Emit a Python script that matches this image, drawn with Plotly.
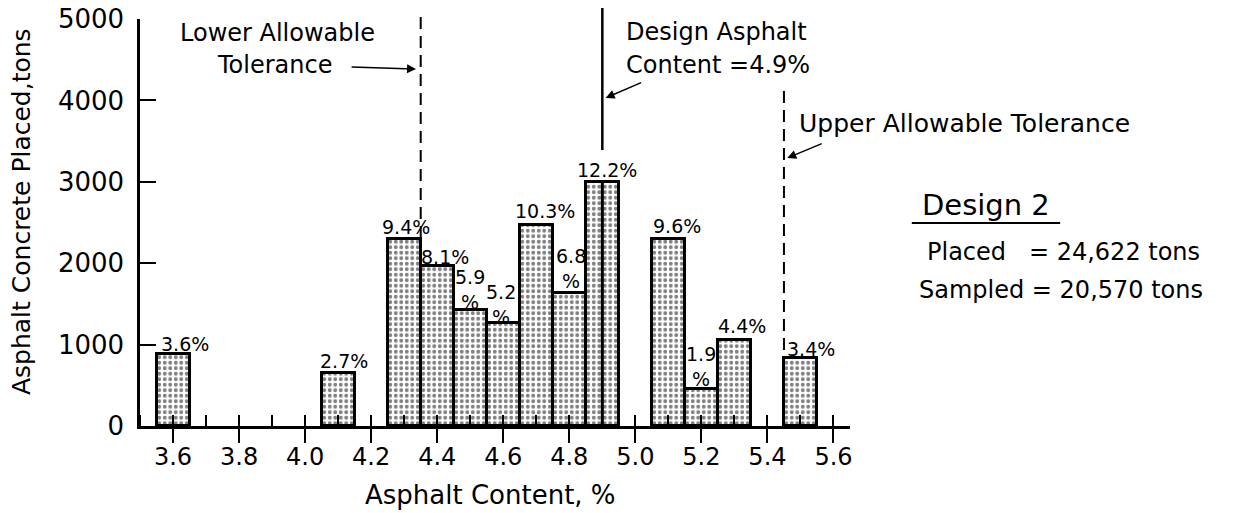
import plotly.graph_objects as go

# Contenido de asfalto (centro de cada clase, %), toneladas colocadas y etiquetas
asphalt_content = [3.6, 4.1, 4.3, 4.4, 4.5, 4.6, 4.7, 4.8, 4.9, 5.1, 5.2, 5.3, 5.5]
tons_placed = [880, 650, 2300, 1970, 1430, 1260, 2470, 1640, 3000, 2300, 460, 1060, 830]
pct_labels = ["3.6%", "2.7%", "9.4%", "8.1%", "5.9<br>%", "5.2<br>%", "10.3%",
              "6.8<br>%", "12.2%", "9.6%", "1.9<br>%", "4.4%", "3.4%"]

x_ticks = [3.6, 3.8, 4.0, 4.2, 4.4, 4.6, 4.8, 5.0, 5.2, 5.4, 5.6]
y_ticks = [0, 1000, 2000, 3000, 4000, 5000]

design_content = 4.9
lower_tol = 4.35
upper_tol = 5.45

FONT = "DejaVu Sans"
bin_width = 0.1

# desplazamientos (px) de cada etiqueta respecto al tope de su barra
label_shift = [(12, 10), (6, 12), (2, 12), (8, 9), (0, 20), (-2, 19), (9, 14),
               (2, 24), (5, 12), (9, 13), (0, 22), (8, 14), (11, 9)]

fig = go.Figure()

fig.add_trace(go.Bar(
    x=asphalt_content,
    y=tons_placed,
    width=bin_width,
    marker=dict(
        color="white",
        line=dict(color="black", width=3),
        pattern=dict(shape=".", fgcolor="black", bgcolor="white", size=5.5, solidity=0.4),
    ),
    showlegend=False,
))

# la clase de 4.9 % va partida en dos mitades
i49 = asphalt_content.index(design_content)
fig.add_shape(type="line", xref="x", yref="y", x0=design_content, x1=design_content,
              y0=0, y1=tons_placed[i49], line=dict(color="black", width=3))

# etiquetas de porcentaje
for xc, yt, lab, (dx, dy) in zip(asphalt_content, tons_placed, pct_labels, label_shift):
    fig.add_annotation(x=xc, y=yt, text=lab, showarrow=False, xanchor="center",
                       yanchor="middle", xshift=dx, yshift=dy,
                       font=dict(family=FONT, size=19, color="black"))

# líneas de tolerancia y de diseño
dash = "12px,7px"
fig.add_shape(type="line", xref="x", yref="paper", x0=lower_tol, x1=lower_tol,
              y0=0.462, y1=1.017, line=dict(color="black", width=2, dash=dash))
fig.add_shape(type="line", xref="x", yref="paper", x0=upper_tol, x1=upper_tol,
              y0=0.187, y1=0.826, line=dict(color="black", width=2, dash=dash))
fig.add_shape(type="line", xref="x", yref="paper", x0=design_content, x1=design_content,
              y0=0.678, y1=1.027, line=dict(color="black", width=2.5))

txt = dict(family=FONT, size=24, color="black")
arrow = dict(text="", showarrow=True, arrowhead=2, arrowsize=1.2, arrowwidth=1.5,
             arrowcolor="black")

fig.add_annotation(x=3.915, y=4830, text="Lower Allowable", showarrow=False, font=txt)
fig.add_annotation(x=3.906, y=4435, text="Tolerance", showarrow=False, font=txt)
fig.add_annotation(x=4.336, y=4386, ax=-66, ay=-2, **arrow)

fig.add_annotation(x=4.967, y=4840, text="Design Asphalt", showarrow=False,
                   xanchor="left", font=txt)
fig.add_annotation(x=4.967, y=4435, text="Content =4.9%", showarrow=False,
                   xanchor="left", font=txt)
fig.add_annotation(x=4.91, y=4030, ax=37, ay=-16, **arrow)

fig.add_annotation(x=5.488, y=3722, text="Upper Allowable Tolerance", showarrow=False,
                   xanchor="left", font=dict(family=FONT, size=25, color="black"))
fig.add_annotation(x=5.46, y=3292, ax=36, ay=-15, **arrow)

# bloque de texto a la derecha
fig.add_annotation(xref="paper", yref="paper", x=1.1915, y=0.543, text="Design 2",
                   xanchor="center", yanchor="middle", showarrow=False,
                   font=dict(family=FONT, size=29, color="black"))
fig.add_shape(type="line", xref="paper", yref="paper", x0=1.087, x1=1.296,
              y0=0.499, y1=0.499, line=dict(color="black", width=2))
fig.add_annotation(xref="paper", yref="paper", x=1.106, y=0.4275, xanchor="left",
                   yanchor="middle", text="Placed   = 24,622 tons", showarrow=False,
                   font=txt)
fig.add_annotation(xref="paper", yref="paper", x=1.094, y=0.334, xanchor="left",
                   yanchor="middle", text="Sampled = 20,570 tons", showarrow=False,
                   font=txt)

# títulos de ejes
fig.add_annotation(xref="paper", yref="paper", x=-0.166, y=0.526, textangle=-90,
                   xanchor="center", yanchor="middle",
                   text="Asphalt Concrete Placed,tons", showarrow=False,
                   font=dict(family=FONT, size=25, color="black"))
fig.add_annotation(xref="paper", yref="paper", x=0.493, y=-0.17,
                   xanchor="center", yanchor="middle",
                   text="Asphalt Content, %", showarrow=False,
                   font=dict(family=FONT, size=26, color="black"))

fig.update_layout(
    width=1257, height=513,
    margin=dict(l=140, r=407, t=19, b=87),
    plot_bgcolor="white", paper_bgcolor="white",
    bargap=0,
    xaxis=dict(
        range=[3.5, 5.65], tickvals=x_ticks, tickformat=".1f", automargin=False,
        showline=True, linecolor="black", linewidth=2.5,
        ticks="outside", ticklen=14, tickwidth=2, tickcolor="black",
        minor=dict(dtick=0.1, tick0=3.5, ticks="inside", ticklen=11, tickwidth=2,
                   tickcolor="black"),
        showgrid=False, zeroline=False, ticklabelstandoff=-7,
        tickfont=dict(family=FONT, size=24, color="black"),
    ),
    yaxis=dict(
        range=[0, 5000], tickvals=y_ticks, automargin=False,
        showline=True, linecolor="black", linewidth=2.5,
        ticks="inside", ticklen=16, tickwidth=2, tickcolor="black",
        showgrid=False, zeroline=False, ticklabelstandoff=8,
        ticklabeloverflow="allow",
        tickfont=dict(family=FONT, size=26, color="black"),
    ),
)

# sin el margen por defecto del body, la figura ocupa toda la ventana
fig.write_html("out.html", config={"displayModeBar": False},
               post_script="document.body.style.margin = '0';")
